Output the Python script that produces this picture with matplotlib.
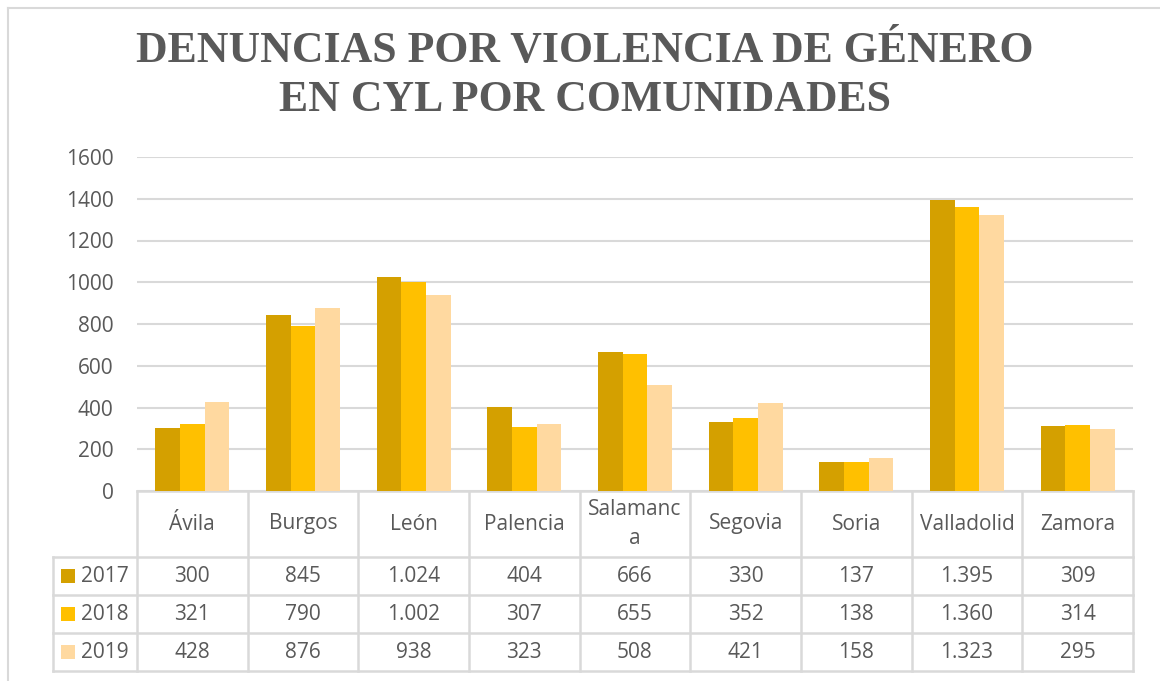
import matplotlib
matplotlib.use("Agg")
import matplotlib.pyplot as plt
from matplotlib.patches import Rectangle
from matplotlib.lines import Line2D
import numpy as np

categories = ["Ávila", "Burgos", "León", "Palencia", "Salamanca", "Segovia", "Soria", "Valladolid", "Zamora"]
header_labels = ["Ávila", "Burgos", "León", "Palencia", "Salamanc\na", "Segovia", "Soria", "Valladolid", "Zamora"]
years = ["2017", "2018", "2019"]
v2017 = [300, 845, 1024, 404, 666, 330, 137, 1395, 309]
v2018 = [321, 790, 1002, 307, 655, 352, 138, 1360, 314]
v2019 = [428, 876, 938, 323, 508, 421, 158, 1323, 295]
series = [v2017, v2018, v2019]
colors = ["#D4A000", "#FFC000", "#FFD9A0"]
yticks = [0, 200, 400, 600, 800, 1000, 1200, 1400, 1600]
title_lines = ["DENUNCIAS POR VIOLENCIA DE GÉNERO", "EN CYL POR COMUNIDADES"]

W, H = 1160, 681
fig = plt.figure(figsize=(W / 100, H / 100), dpi=100)
fig.patch.set_facecolor("white")

txt_color = "#595959"
grid_color = "#D9D9D9"
font = "Open Sans"
fs = 15

# axes in pixel coords
ax_l, ax_r, ax_t, ax_b = 137, 1133, 157, 491
ax = fig.add_axes([ax_l / W, 1 - ax_b / H, (ax_r - ax_l) / W, (ax_b - ax_t) / H])

n = len(categories)
x = np.arange(n)
bw = 1 / 4.5
for i, (vals, c) in enumerate(zip(series, colors)):
    ax.bar(x + (i - 1) * bw, vals, width=bw, color=c, zorder=3, label=years[i])

ax.set_xlim(-0.5, n - 0.5)
ax.set_ylim(0, 1600)
ax.set_yticks(yticks)
ax.set_yticklabels([str(t) for t in yticks], fontsize=fs, color=txt_color, family=font)
ax.tick_params(axis="y", length=0, pad=17)
ax.set_xticks([])
for s in ax.spines.values():
    s.set_visible(False)
ax.grid(axis="y", color=grid_color, linewidth=1.5, zorder=0)

# data table
def px2ax(py):
    return (ax_b - py) / (ax_b - ax_t)

def px2dx(px):
    return -0.5 + (px - ax_l) / ((ax_r - ax_l) / n)

tr = ax.get_xaxis_transform()
row_y = [491, 557, 595, 633, 671]
left_px = 53
lkw = dict(color=grid_color, linewidth=1.8, transform=tr, clip_on=False)
ax.add_line(Line2D([-0.5, n - 0.5], [px2ax(491)] * 2, **lkw))
for py in row_y[1:]:
    ax.add_line(Line2D([px2dx(left_px), n - 0.5], [px2ax(py)] * 2, **lkw))
for k in range(n + 1):
    ax.add_line(Line2D([k - 0.5, k - 0.5], [px2ax(491), px2ax(671)], **lkw))
ax.add_line(Line2D([px2dx(left_px)] * 2, [px2ax(557), px2ax(671)], **lkw))

hy = px2ax((491 + 557) / 2)
for k, lab in enumerate(header_labels):
    ax.text(k, hy, lab, transform=tr, ha="center", va="center", fontsize=fs,
            color=txt_color, family=font, linespacing=1.45)

def fmt(v):
    return f"{v:,}".replace(",", ".")

for r, (vals, c, yr) in enumerate(zip(series, colors, years)):
    cpx = (row_y[r + 1] + row_y[r + 2]) / 2
    cy = px2ax(cpx)
    for k, v in enumerate(vals):
        ax.text(k, cy, fmt(v), transform=tr, ha="center", va="center", fontsize=fs,
                color=txt_color, family=font)
    sq = 14
    fig.patches.append(Rectangle((61 / W, 1 - (cpx + sq / 2) / H),
                                 sq / W, sq / H, transform=fig.transFigure,
                                 facecolor=c, edgecolor="none"))
    fig.text(81 / W, 1 - cpx / H, yr, ha="left", va="center",
             fontsize=fs, color=txt_color, family=font)

# title
for yc, line in zip([51, 100], title_lines):
    fig.text(585 / W, 1 - yc / H, line, ha="center", va="center", fontsize=31.5,
             fontweight="bold", color=txt_color, family="Liberation Serif")

# outer border (left & top)
fig.add_artist(Line2D([8 / W, 8 / W], [0, 1 - 8 / H], color=grid_color, linewidth=1.5, transform=fig.transFigure))
fig.add_artist(Line2D([8 / W, 1], [1 - 8 / H, 1 - 8 / H], color=grid_color, linewidth=1.5, transform=fig.transFigure))

fig.savefig("out.png", dpi=100, facecolor="white")
